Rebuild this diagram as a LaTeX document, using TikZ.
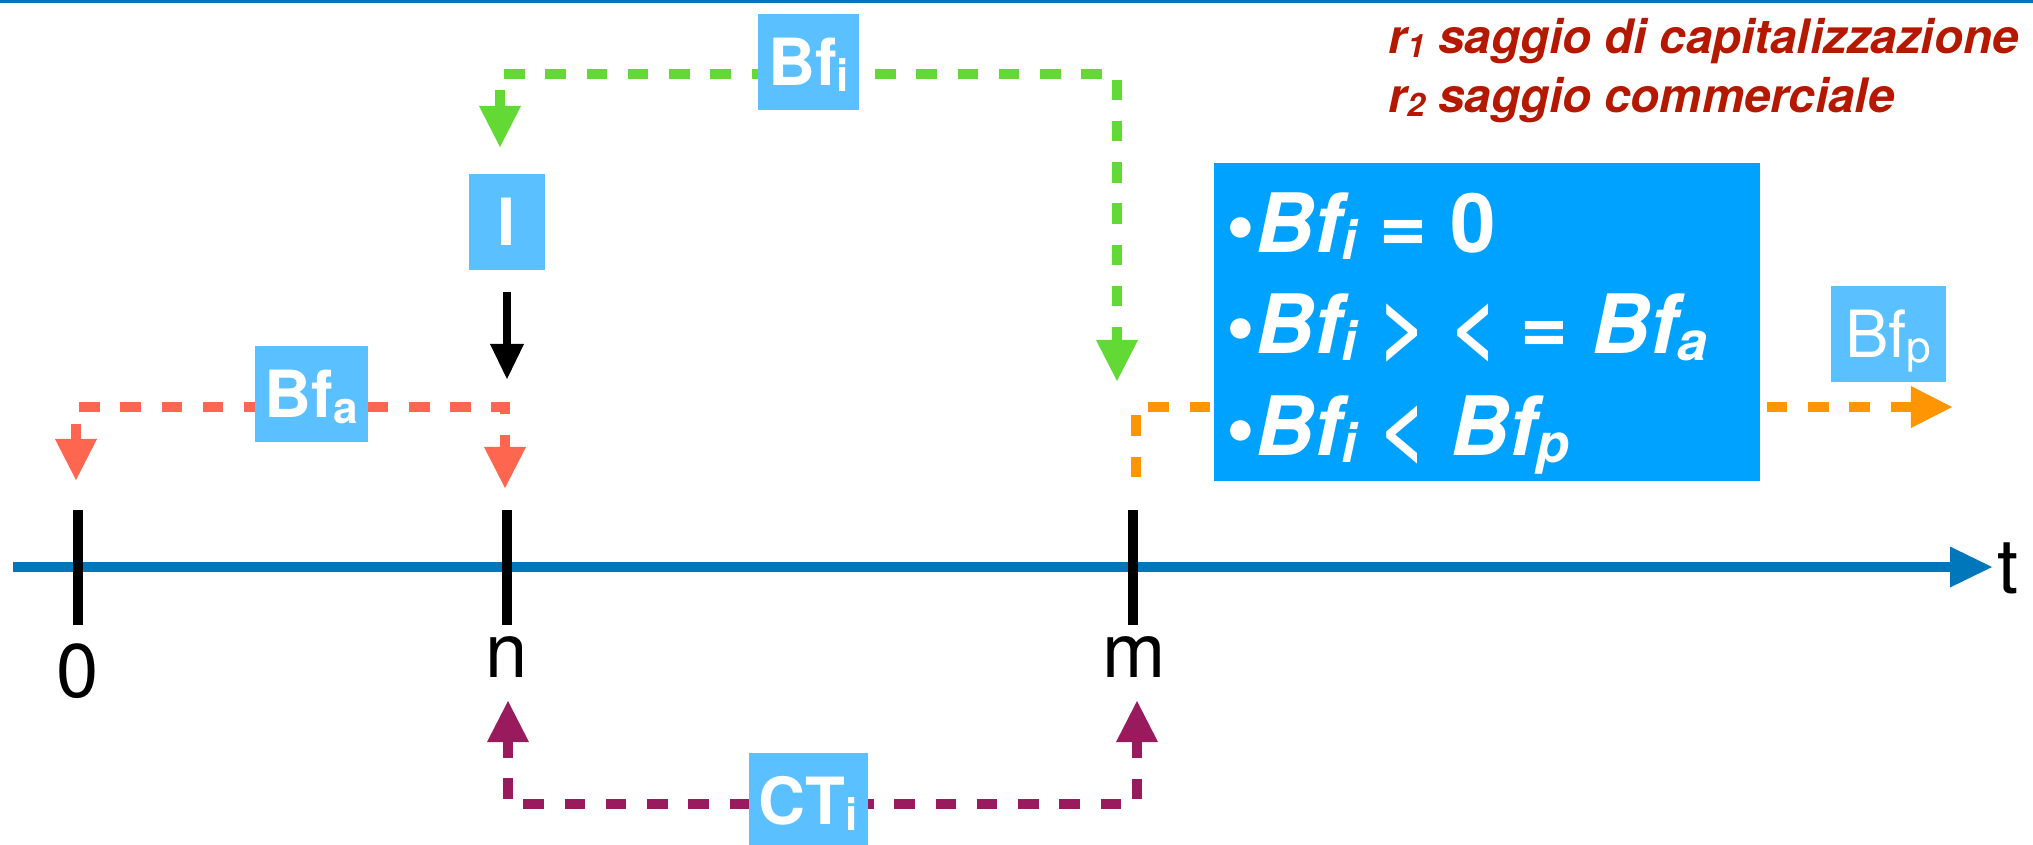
\documentclass[tikz,border=0pt]{standalone}
\usepackage{fontspec}
\setmainfont{TeX Gyre Heros}
\usetikzlibrary{arrows.meta}
\definecolor{axisblue}{RGB}{0,119,187}
\definecolor{lblue}{RGB}{90,192,255}
\definecolor{bigblue}{RGB}{0,162,255}
\definecolor{redd}{RGB}{255,102,80}
\definecolor{greend}{RGB}{99,217,54}
\definecolor{orangd}{RGB}{255,149,0}
\definecolor{purpd}{RGB}{154,26,94}
\definecolor{legred}{RGB}{180,25,0}
\newcommand\subx[2][0.68]{\raisebox{-0.16ex}{\scalebox{#1}{#2}}}
\newcommand\upr[1]{{\upshape #1}}
\tikzset{
  Tri/.tip={Triangle[width=0.42cm,length=0.41cm,line width=0pt]},
  flow/.style={line width=0.1cm, dash pattern=on 0.205cm off 0.207cm},
  tickline/.style={line width=0.1cm, black},
  lbl/.style={fill=lblue, text=white, font=\fontsize{18.5}{20}\selectfont\bfseries,
    inner xsep=0.1cm, inner ysep=0pt, minimum width=0.76cm, minimum height=0.96cm,
    text height=0.47cm, text depth=0pt},
  axlabel/.style={anchor=base, inner sep=0pt, font=\fontsize{21.6}{24}\selectfont},
  boxtxt/.style={anchor=base west, inner sep=0pt, text=white,
    font=\fontsize{23.3}{28}\selectfont\bfseries\itshape},
  legend/.style={anchor=base west, inner sep=0pt, text=legred,
    font=\fontsize{13.5}{16}\selectfont\bfseries\itshape},
}
\begin{document}
\begin{tikzpicture}[x=0.01cm,y=-0.01cm]
\useasboundingbox (0,0) rectangle (2033,844);
% top rule
\fill[axisblue] (0,0) rectangle (2033,3);
% coordinates
\coordinate (axs) at (13,567);
\coordinate (axe) at (1992,567);
\coordinate (t0a) at (78,510);   \coordinate (t0b) at (78,625);
\coordinate (tna) at (507,510);  \coordinate (tnb) at (507,625);
\coordinate (tma) at (1133,510); \coordinate (tmb) at (1133,625);
\coordinate (r0tip) at (76,480);  \coordinate (r0c) at (76,407);
\coordinate (rnc) at (505,407);   \coordinate (rntip) at (505,488);
\coordinate (gntip) at (500,147); \coordinate (gnc) at (500,74);
\coordinate (gmc) at (1117,74);   \coordinate (gmtip) at (1117,381);
\coordinate (pntip) at (508,701); \coordinate (pnc) at (508,804);
\coordinate (pmc) at (1137,804);  \coordinate (pmtip) at (1137,701);
\coordinate (os) at (1136,477);   \coordinate (oc) at (1136,407);
\coordinate (otip) at (1952,407);
\coordinate (bks) at (507,292);   \coordinate (bktip) at (507,379);
% axis
\draw[line width=0.1cm, axisblue, -{Triangle[width=0.41cm,length=0.42cm,line width=0pt]}] (axs) -- (axe);
\draw[tickline] (t0a) -- (t0b);
\draw[tickline] (tna) -- (tnb);
\draw[tickline] (tma) -- (tmb);
% flows
\draw[flow, redd, dash phase=0.06cm, Tri-Tri] (r0tip) -- (r0c) -- (rnc) -- (rntip);
\draw[flow, greend, dash phase=0.05cm, Tri-Tri] (gntip) -- (gnc) -- (gmc) -- (gmtip);
\draw[flow, purpd, dash phase=0.05cm, Tri-Tri] (pntip) -- (pnc) -- (pmc) -- (pmtip);
\draw[flow, orangd, -Tri] (os) -- (oc) -- (otip);
\draw[line width=0.08cm, black, -{Triangle[width=0.34cm,length=0.35cm,line width=0pt]}] (bks) -- (bktip);
% axis labels
\node[axlabel] (l0) at (78,697) {0};
\node[axlabel] (ln) at (507,677) {n};
\node[axlabel] (lm) at (1134,677) {m};
\node[axlabel, anchor=base west] (lt) at (1997,593) {t};
% label boxes
\node[lbl] (Bfa) at (311.5,394) {Bf\subx{a}};
\node[lbl] (Bfi) at (808.5,62) {Bf\subx{i}};
\node[lbl] (I) at (507,222) {I};
\node[lbl] (CTi) at (808.5,801) {CT\subx{i}};
\node[lbl, font=\fontsize{18.5}{20}\selectfont, inner xsep=0.145cm] (Bfp) at (1888.5,334) {Bf\subx{p}};
% big box
\node[fill=bigblue, minimum width=5.46cm, minimum height=3.18cm, inner sep=0pt] (box) at (1487,322) {};
\node[boxtxt] (c1) at (1226,252) {\upr{\textbullet}Bf\subx[0.66]{i} \upr{= 0}};
\node[boxtxt] (c2) at (1226,353) {\upr{\textbullet}Bf\subx[0.66]{i} \upr{> < =} Bf\subx[0.66]{a}};
\node[boxtxt] (c3) at (1226,455) {\upr{\textbullet}Bf\subx[0.66]{i} \upr{<} Bf\subx[0.66]{p}};
% legend
\node[legend] (leg1) at (1388,53) {r\subx{1} saggio di capitalizzazione};
\node[legend] (leg2) at (1388,112) {r\subx{2} saggio commerciale};
\end{tikzpicture}
\end{document}
